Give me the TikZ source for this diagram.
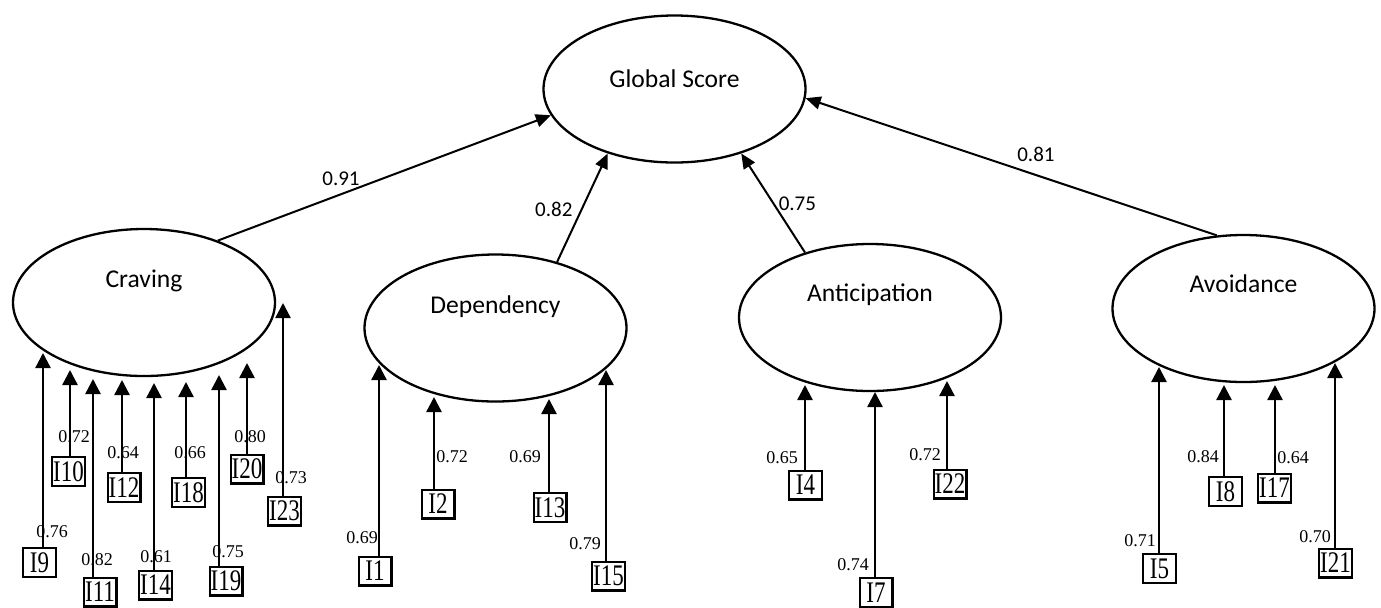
\documentclass[tikz,border=0pt]{standalone}
\usepackage{fontspec}
\setmainfont{Liberation Serif}
\newfontfamily\calib{Carlito}
\usetikzlibrary{shapes.geometric,arrows.meta}
\tikzset{
  latent/.style={ellipse,draw,line width=1.15pt,minimum width=131pt,minimum height=73.5pt,inner sep=0pt},
  ltxt/.style={font=\calib\fontsize{12.8}{14}\selectfont,inner sep=0pt,text height=8.3pt,text depth=0pt},
  item/.style={draw,line width=1.1pt,minimum width=16.4pt,minimum height=14.4pt,inner sep=0pt,font=\fontsize{11.5}{12}\selectfont},
  load/.style={font=\fontsize{9}{10}\selectfont,inner sep=0pt},
  coef/.style={font=\calib\fontsize{10.5}{12}\selectfont,inner sep=1pt},
  uptip/.style={-{Triangle[length=7.5pt,width=7.5pt]},line width=1.2pt},
  pathtip/.style={-{Triangle[length=7.5pt,width=6.5pt]},line width=1pt}
}
\begin{document}
\begin{tikzpicture}[x=0.5pt,y=-0.5pt]
  \useasboundingbox (0,0) rectangle (1381,607);
  \clip (0,0) rectangle (1381,607);
  % factors
  \node[latent] (glob) at (674.5,89) {};
  \node[latent] (crav) at (144,302.5) {};
  \node[latent] (dep) at (495.5,328) {};
  \node[latent] (ant) at (870,317.5) {};
  \node[latent] (avo) at (1243.5,308.5) {};
  \node[ltxt] (globtxt) at ([yshift=5pt]glob.center) {Global Score};
  \node[ltxt] (cravtxt) at ([yshift=11.75pt]crav.center) {Craving};
  \node[ltxt] (deptxt) at ([yshift=11.5pt]dep.center) {Dependency};
  \node[ltxt] (anttxt) at ([yshift=12pt]ant.center) {Anticipation};
  \node[ltxt] (avotxt) at ([yshift=12pt]avo.center) {Avoidance};
  % second order paths
  \draw[pathtip] (crav.40) -- (glob.192) node[coef,pos=0.37,above=3pt] (c1) {0.91};
  \draw[pathtip] (dep.47) -- (glob.224) node[coef,pos=0.48,left=3pt] (c2) {0.82};
  \draw[pathtip] (ant.135) -- (glob.316) node[coef,pos=0.49,right=1pt] (c3) {0.75};
  \draw[pathtip] (avo.110) -- (glob.356) node[coef,pos=0.44,above=5pt] (c4) {0.81};
  % items: number/box x/box y/tip x/tip y/loading/label x/label y
  \foreach \n/\bx/\by/\tx/\ty/\v/\lx/\ly in {
    9/39.5/562.5/43/353/0.76/52/532, 10/68.5/471.5/70/370/0.72/74/437,
    11/100/592/93/379/0.82/97/560, 12/124/487.5/122/380/0.64/123/453,
    14/155.5/585/154/383/0.61/156/557, 18/188.5/492.5/186/382/0.66/190/453,
    19/226/581/219/375/0.75/228/552, 20/247/469/247/363/0.80/250/437,
    23/284.5/511/283/303/0.73/291/478,
    1/375/571/379/365/0.69/362/538, 2/438/504/434/397/0.72/452/457,
    13/550/507.5/549/399/0.69/525/457, 15/608.5/576/606/370/0.79/585/544,
    4/805.5/485/805/385/0.65/782/458, 7/876/592.5/875/392/0.74/853/565,
    22/950/484/947/381/0.72/925/455,
    5/1159.5/568.5/1159/367/0.71/1140/541, 8/1225.5/491.5/1224/385/0.84/1203/457,
    17/1274.5/488/1275/385/0.64/1293/458, 21/1335.5/563/1335/363/0.70/1315/537
  }{
    \node[item] (i\n) at (\bx,\by) {\scalebox{1}[1.3]{I\n}};
    \coordinate (t\n) at (\tx,\ty);
    \draw[uptip] (t\n |- i\n.north) -- (t\n);
    \node[load] (l\n) at (\lx,\ly) {\v};
  }
\end{tikzpicture}
\end{document}
